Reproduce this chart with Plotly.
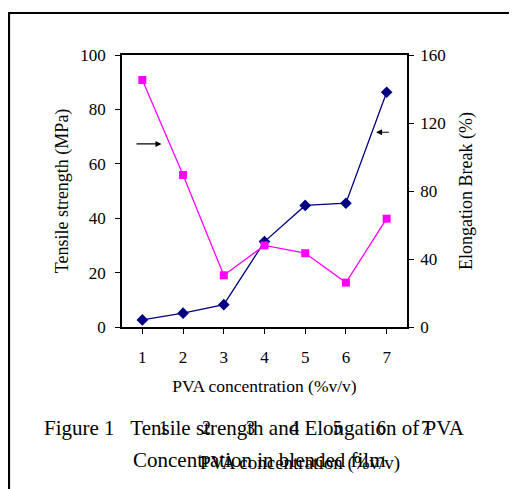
import plotly.graph_objects as go

categories = [1, 2, 3, 4, 5, 6, 7]
tensile_strength = [2.6, 5.1, 8.2, 31.4, 44.7, 45.5, 86.3]
elongation_break = [145.3, 89.4, 30.4, 48.0, 43.4, 26.1, 63.7]
x_title = "PVA concentration (%v/v)"
caption_1 = "Figure 1&nbsp;&nbsp;&nbsp;Tensile strength and Elongation of PVA"
caption_2 = "Concentration in blended film"

OFF = 8  # page body margin
W, H = 517 - OFF, 489 - OFF
L, R, T, B = 122 - OFF, 407 - OFF, 55 - OFF, 327 - OFF
FONT = "Liberation Serif, Times New Roman, serif"


def px(xs):  # screen x -> paper
    return (xs - OFF - L) / (R - L)


def py(ys):  # screen y -> paper
    return (B - (ys - OFF)) / (B - T)


fig = go.Figure()
fig.add_trace(go.Scatter(
    x=categories, y=tensile_strength, mode="lines+markers",
    line=dict(color="#000080", width=1.3),
    marker=dict(symbol="diamond", size=9, color="#000080"),
    yaxis="y", showlegend=False))
fig.add_trace(go.Scatter(
    x=categories, y=elongation_break, mode="lines+markers",
    line=dict(color="#FF00FF", width=1.3),
    marker=dict(symbol="square", size=8, color="#FF00FF"),
    yaxis="y2", showlegend=False))

axis_common = dict(showline=True, linecolor="#000", linewidth=1.5,
                   ticks="outside", ticklen=5, tickcolor="#000", tickwidth=1.2,
                   showgrid=False, zeroline=False,
                   tickfont=dict(family=FONT, size=17, color="#000"))

fig.update_layout(
    width=W, height=H,
    margin=dict(l=L, r=W - R, t=T, b=H - B),
    paper_bgcolor="white", plot_bgcolor="white",
    font=dict(family=FONT, color="#000"),
    xaxis=dict(range=[0.5, 7.5], tickvals=categories,
               ticktext=[str(c) for c in categories], mirror=True,
               ticklabelstandoff=9,
               title=dict(text=x_title, font=dict(family=FONT, size=17.5), standoff=14),
               **axis_common),
    yaxis=dict(range=[0, 100], tickvals=[0, 20, 40, 60, 80, 100],
               ticklabelstandoff=6,
               title=dict(text="Tensile strength (MPa)", font=dict(family=FONT, size=18), standoff=7),
               **axis_common),
    yaxis2=dict(range=[0, 160], tickvals=[0, 40, 80, 120, 160], overlaying="y",
                side="right", ticklabelstandoff=3,
                title=dict(text="Elongation Break (%)", font=dict(family=FONT, size=18), standoff=15),
                **axis_common),
)

# arrows pointing series to their axes
fig.add_annotation(x=1.47, y=67.3, ax=0.82, ay=67.3, xref="x", yref="y",
                   axref="x", ayref="y", text="", showarrow=True,
                   arrowhead=2, arrowsize=1, arrowwidth=1.2, arrowcolor="#000")
fig.add_annotation(x=6.74, y=71.6, ax=7.09, ay=71.6, xref="x", yref="y",
                   axref="x", ayref="y", text="", showarrow=True,
                   arrowhead=2, arrowsize=1, arrowwidth=1.2, arrowcolor="#000")

# caption
fig.add_annotation(x=px(254), y=py(428), xref="paper", yref="paper",
                   text=caption_1, showarrow=False, xanchor="center", yanchor="middle",
                   font=dict(family=FONT, size=21, color="#000"))
fig.add_annotation(x=px(259), y=py(460), xref="paper", yref="paper",
                   text=caption_2, showarrow=False, xanchor="center", yanchor="middle",
                   font=dict(family=FONT, size=21, color="#000"))

# ghost copy of the x-axis labels overlapping the caption
for c in categories:
    fig.add_annotation(x=px(163 + (c - 1) * 43.7), y=py(428), xref="paper", yref="paper",
                       text=str(c), showarrow=False, xanchor="center", yanchor="middle",
                       font=dict(family=FONT, size=18, color="#000"))
fig.add_annotation(x=px(300), y=py(463), xref="paper", yref="paper",
                   text=x_title, showarrow=False, xanchor="center", yanchor="middle",
                   font=dict(family=FONT, size=19, color="#000"))

# outer frame (left and top edges)
fig.add_shape(type="path", xref="paper", yref="paper",
              path=f"M {px(9)} {py(500)} L {px(9)} {py(13)} L {px(530)} {py(13)}",
              line=dict(color="#000", width=2.2))

fig.write_html("out.html")
